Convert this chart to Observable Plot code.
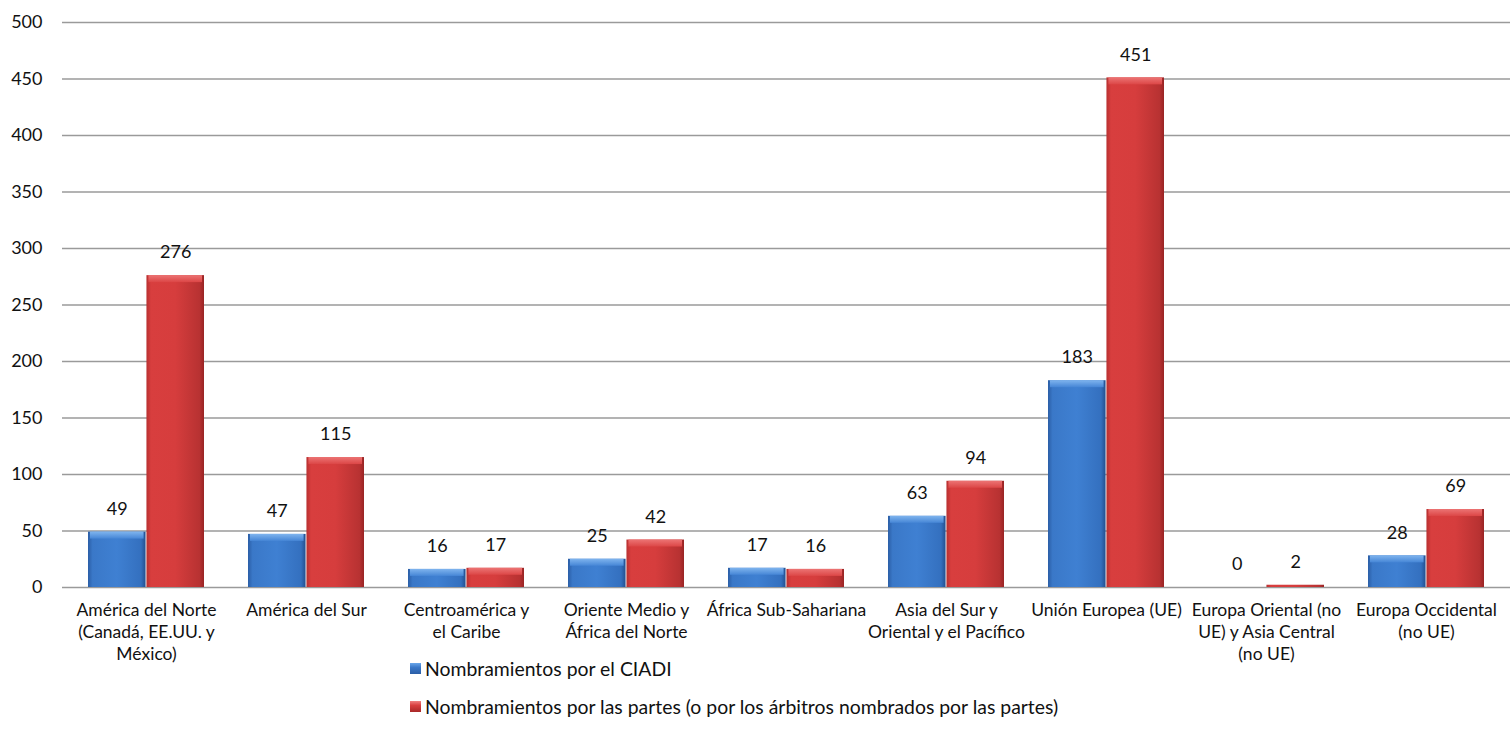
<!DOCTYPE html>
<html>
<head>
<meta charset="utf-8">
<script src="https://cdn.jsdelivr.net/npm/d3@7"></script>
<script src="https://cdn.jsdelivr.net/npm/@observablehq/plot@0.6"></script>
<style>
  html, body { margin: 0; padding: 0; background: #fff; }
  body { width: 1510px; height: 750px; overflow: hidden; font-family: Lato, "Open Sans", sans-serif; }
  #legend { margin-left: 410px; margin-top: -19px; font-size: 19.4px; color: #111; position: relative; }
  .item { display: flex; align-items: center; height: 38px; }
  .sw { width: 11px; height: 11px; margin-right: 4px; }
</style>
</head>
<body>
<div id="chart"></div>
<div id="legend"></div>
<script>
const categories = [
  "América del Norte\n(Canadá, EE.UU. y\nMéxico)",
  "América del Sur",
  "Centroamérica y\nel Caribe",
  "Oriente Medio y\nÁfrica del Norte",
  "África Sub-Sahariana",
  "Asia del Sur y\nOriental y el Pacífico",
  "Unión Europea (UE)",
  "Europa Oriental (no\nUE) y Asia Central\n(no UE)",
  "Europa Occidental\n(no UE)"
];
const ciadi = [49, 47, 16, 25, 17, 63, 183, 0, 28];
const partes = [276, 115, 17, 42, 16, 94, 451, 2, 69];
const seriesNames = ["Nombramientos por el CIADI", "Nombramientos por las partes (o por los árbitros nombrados por las partes)"];
const yTicks = [0, 50, 100, 150, 200, 250, 300, 350, 400, 450, 500];

const W = 1510, H = 668, mL = 62, mR = 0;
const bw = (W - mL - mR) / categories.length;
const pad = 22;                 // outer gap inside each band
const barW = (bw - 2 * pad) / 2;

const blueData = categories.map((c, i) => ({cat: c, v: ciadi[i]}));
const redData = categories.map((c, i) => ({cat: c, v: partes[i]}));

function defs() {
  const ns = "http://www.w3.org/2000/svg";
  const d = document.createElementNS(ns, "defs");
  d.innerHTML = `
    <linearGradient id="gBlue" x1="0" x2="1" y1="0" y2="0">
      <stop offset="0" stop-color="#2b5ea6"/>
      <stop offset="0.08" stop-color="#3a78c8"/>
      <stop offset="0.5" stop-color="#3f80d2"/>
      <stop offset="0.92" stop-color="#3470bf"/>
      <stop offset="1" stop-color="#24508f"/>
    </linearGradient>
    <linearGradient id="gRed" x1="0" x2="1" y1="0" y2="0">
      <stop offset="0" stop-color="#b83030"/>
      <stop offset="0.08" stop-color="#d83e3e"/>
      <stop offset="0.5" stop-color="#d63d3d"/>
      <stop offset="0.92" stop-color="#b83232"/>
      <stop offset="1" stop-color="#982424"/>
    </linearGradient>
    <linearGradient id="gBlueTop" x1="0" x2="0" y1="0" y2="1">
      <stop offset="0" stop-color="#7fb4ee"/>
      <stop offset="1" stop-color="#4686d6"/>
    </linearGradient>
    <linearGradient id="gRedTop" x1="0" x2="0" y1="0" y2="1">
      <stop offset="0" stop-color="#ec7474"/>
      <stop offset="1" stop-color="#dc4646"/>
    </linearGradient>`;
  return d;
}

const chart = Plot.plot({
  width: W,
  height: H,
  marginLeft: mL,
  marginRight: mR,
  marginTop: 22,
  marginBottom: 81,
  style: {fontFamily: "Lato, 'Open Sans', sans-serif", fontSize: "18px", color: "#111", background: "#fff"},
  x: {domain: categories, padding: 0, label: null},
  y: {domain: [0, 500], label: null},
  marks: [
    defs,
    Plot.ruleY(yTicks, {stroke: "#9a9a9a", strokeWidth: 1.6}),
    Plot.axisY({ticks: yTicks, tickSize: 0, tickPadding: 20, fontSize: 18, label: null}),
    Plot.axisX({tickSize: 0, tickPadding: 13, fontSize: 17.5, lineHeight: 1.25, textAnchor: "middle", label: null}),
    Plot.barY(blueData, {x: "cat", y: "v", fill: "url(#gBlue)", insetLeft: pad, insetRight: pad + barW}),
    Plot.barY(blueData.filter(d => d.v > 0), {x: "cat", y1: "v", y2: "v", fill: "url(#gBlueTop)", insetLeft: pad + 2, insetRight: pad + barW + 2, insetTop: 0, insetBottom: -7}),
    Plot.barY(redData, {x: "cat", y: "v", fill: "url(#gRed)", insetLeft: pad + barW, insetRight: pad}),
    Plot.barY(redData.filter(d => d.v > 2), {x: "cat", y1: "v", y2: "v", fill: "url(#gRedTop)", insetLeft: pad + barW + 2, insetRight: pad + 2, insetTop: 0, insetBottom: -7}),
    Plot.text(blueData, {x: "cat", y: "v", text: d => String(d.v), dx: -barW / 2, dy: -23, fontSize: 18, fill: "#111"}),
    Plot.text(redData, {x: "cat", y: "v", text: d => String(d.v), dx: barW / 2, dy: -23, fontSize: 18, fill: "#111"})
  ]
});
document.getElementById("chart").appendChild(chart);

const legend = document.getElementById("legend");
const swatches = ["linear-gradient(#6aa6ea, #3a78c8 40%, #2b5ea6)", "linear-gradient(#f08080, #d83e3e 40%, #a82828)"];
seriesNames.forEach((name, i) => {
  const row = document.createElement("div");
  row.className = "item";
  const sw = document.createElement("span");
  sw.className = "sw";
  sw.style.background = swatches[i];
  const t = document.createElement("span");
  t.textContent = name;
  row.appendChild(sw);
  row.appendChild(t);
  legend.appendChild(row);
});
</script>
</body>
</html>
